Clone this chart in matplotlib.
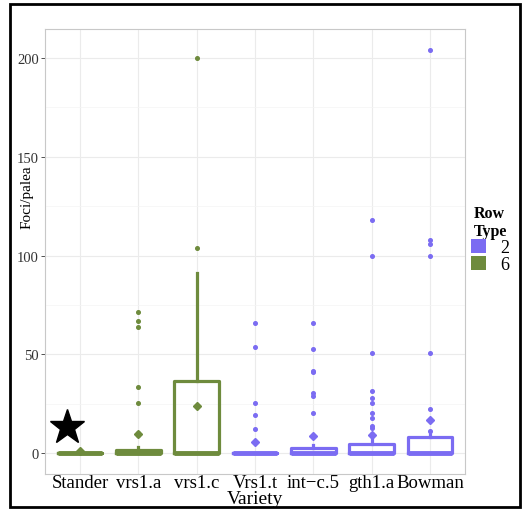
import numpy as np
import matplotlib
matplotlib.use("Agg")
import matplotlib.pyplot as plt
from matplotlib.patches import Patch, Rectangle

plt.rcParams['font.family'] = ['Liberation Serif', 'DejaVu Serif']

varieties = ["Stander", "vrs1.a", "vrs1.c", "Vrs1.t", "int\u2212c.5", "gth1.a", "Bowman"]
row_type = [6, 6, 6, 2, 2, 2, 2]

q1 = [0, 0, 0, 0, 0, 0, 0]
med = [0, 0, 0, 0, 0, 0, 0]
q3 = [0, 1.7, 36.6, 0, 2.5, 4.6, 8.3]
whis_lo = [0, 0, 0, 0, 0, 0, 0]
whis_hi = [1.5, 3, 91, 0, 4, 8, 10.5]
means = [1, 9.6, 23.8, 5.7, 8.8, 9, 16.5]
outliers = [
    [],
    [71.5, 66.7, 63.6, 33.6, 25.5, 10, 9],
    [200, 103.8],
    [65.7, 53.5, 25.5, 19.4, 12.3],
    [65.7, 52.7, 41.7, 40.8, 30.4, 28.7, 20.4],
    [117.8, 99.6, 50.5, 31.4, 27.7, 25.5, 20.4, 17.6, 13.6, 12.6, 9.5],
    [204, 107.8, 105.8, 99.6, 50.5, 22.4, 11],
]

colors = {2: "#7B6CF2", 6: "#6E8B3D"}

fig = plt.figure(figsize=(5.25, 5.10), dpi=100)
ax = fig.add_axes([45 / 525, 1 - 475 / 510, 420 / 525, 445 / 510])

stats = []
for i in range(len(varieties)):
    stats.append(dict(med=med[i], q1=q1[i], q3=q3[i], whislo=whis_lo[i],
                      whishi=whis_hi[i], fliers=outliers[i], mean=means[i]))

pos = np.arange(len(varieties))
for i, s in enumerate(stats):
    c = colors[row_type[i]]
    ax.bxp([s], positions=[pos[i]], widths=0.77, showcaps=False, showmeans=True,
           boxprops=dict(color=c, linewidth=2.3),
           medianprops=dict(color=c, linewidth=3.5),
           whiskerprops=dict(color=c, linewidth=2.3),
           flierprops=dict(marker='o', markersize=2.6, markerfacecolor=c, markeredgecolor=c),
           meanprops=dict(marker='D', markersize=4.2, markerfacecolor=c, markeredgecolor=c),
           zorder=3)

ax.set_xlim(-0.6, 6.6)
ax.set_ylim(-10.6, 214.7)
ax.set_xticks(pos)
ax.set_xticklabels(varieties, fontsize=13.5)
ax.set_yticks([0, 50, 100, 150, 200])
ax.set_yticks([25, 75, 125, 175], minor=True)
ax.tick_params(axis='y', labelsize=10.5, colors='#333333', length=3, width=0.6, pad=1.5)
ax.tick_params(axis='x', length=0, pad=0, colors='black')
ax.tick_params(axis='y', which='minor', length=0)
ax.grid(True, which='major', color='#ebebeb', linewidth=0.8, zorder=0)
ax.grid(True, which='minor', axis='y', color='#f4f4f4', linewidth=0.5, zorder=0)
ax.set_axisbelow(True)
for sp in ax.spines.values():
    sp.set_color('#c8c8c8')
    sp.set_linewidth(0.8)

ax.set_xlabel("Variety", fontsize=14, labelpad=-1)
ax.set_ylabel("Foci/palea", fontsize=11)
ax.yaxis.set_label_coords(-0.028, 0.625)

# star marker at bottom left
ax.plot([-0.22], [13], marker='*', markersize=26, color='black', zorder=4, clip_on=False)

# legend
handles = [Patch(facecolor=colors[2], edgecolor='none', label='2'),
           Patch(facecolor=colors[6], edgecolor='none', label='6')]
leg = fig.legend(handles=handles, title="Row\nType", loc='center left',
                 bbox_to_anchor=(466 / 525, 1 - 240 / 510), frameon=False,
                 fontsize=13, title_fontsize=11.5, handlelength=0.8, handleheight=0.8,
                 handletextpad=0.8, labelspacing=0.0, borderaxespad=0.0, borderpad=0.3)
leg.get_title().set_fontweight('bold')

# outer black frame
fig.patches.append(Rectangle((10 / 525, 2 / 510), 510 / 525, 503 / 510, transform=fig.transFigure,
                             fill=False, edgecolor='black', linewidth=2))

fig.savefig("out.png", dpi=100)
